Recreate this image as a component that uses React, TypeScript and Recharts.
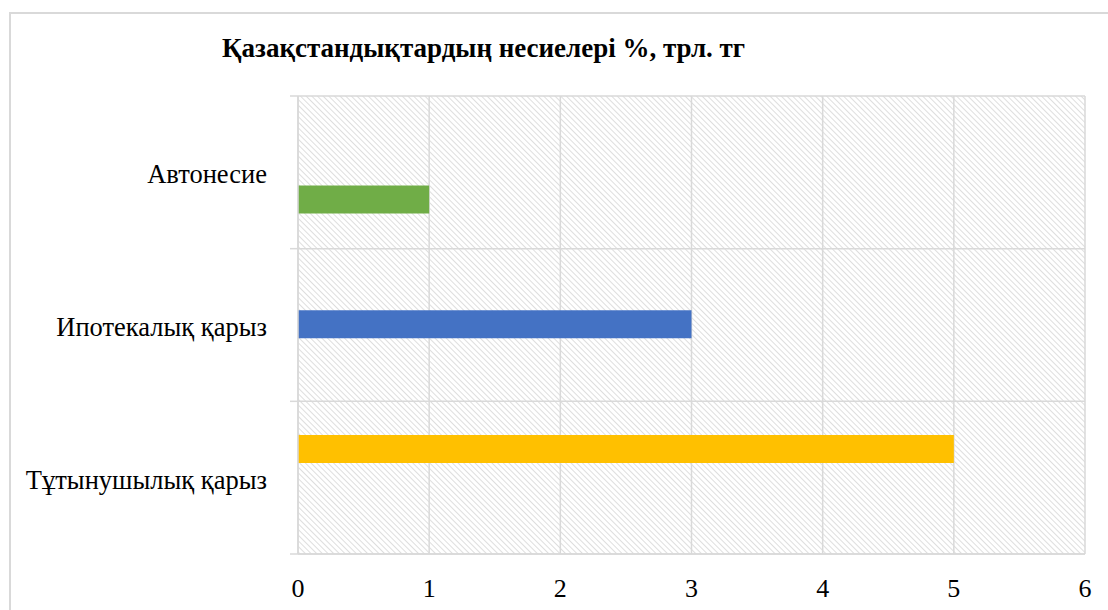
import React from 'react';
import { BarChart, Bar, XAxis, YAxis, CartesianGrid } from 'recharts';

const categories = ['Автонесие', 'Ипотекалық қарыз', 'Тұтынушылық қарыз'];
const consumerValues = [0, 0, 5];
const mortgageValues = [0, 3, 0];
const autoValues = [1, 0, 0];
const xTicks = [0, 1, 2, 3, 4, 5, 6];

const title = 'Қазақстандықтардың несиелері %, трл. тг';

const data = categories.map((name, i) => ({
  name,
  consumer: consumerValues[i],
  mortgage: mortgageValues[i],
  auto: autoValues[i],
}));

const GRID = '#d9d9d9';
const FONT = 'Liberation Serif';

// category label plus the short tick that sticks out left of the axis at each band border
const CategoryTick = (props: any) => {
  const { x, y, payload, index, visibleTicksCount } = props;
  const half = payload?.offset ?? 76;
  const isLast = index === visibleTicksCount - 1;
  return (
    <g>
      <line x1={x + 23} x2={x + 31} y1={y - half} y2={y - half} stroke={GRID} strokeWidth={1.5} />
      {isLast && (
        <line x1={x + 23} x2={x + 31} y1={y + half} y2={y + half} stroke={GRID} strokeWidth={1.5} />
      )}
      <text x={x} y={y + 2} textAnchor="end" dominantBaseline="central" fontSize={26.5} fill="#000" style={{ fontFamily: FONT }}>
        {payload.value}
      </text>
    </g>
  );
};

const ValueTick = (props: any) => {
  const { x, y, payload } = props;
  return (
    <text x={x} y={y + 10} textAnchor="middle" dominantBaseline="central" fontSize={26} fill="#000" style={{ fontFamily: FONT }}>
      {payload.value}
    </text>
  );
};

const App = () => {
  return (
    <div style={{ position: 'absolute', left: 0, top: 0, width: 1108, height: 610, background: '#fff', overflow: 'hidden' }}>
      <svg width={0} height={0} style={{ position: 'absolute' }}>
        <defs>
          <pattern id="hatch" patternUnits="userSpaceOnUse" width={4} height={4} patternTransform="rotate(-45)">
            <rect width={4} height={4} fill="#fff" />
            <line x1={0} y1={0} x2={0} y2={4} stroke="#d6d6d6" strokeWidth={1.6} />
          </pattern>
        </defs>
      </svg>

      {/* outer chart frame, only top and left edges are visible */}
      <div style={{ position: 'absolute', left: 9, top: 12, width: 1120, height: 620, border: '2px solid #d9d9d9', boxSizing: 'border-box' }} />

      <div
        style={{
          position: 'absolute',
          left: 222,
          top: 31,
          fontFamily: FONT,
          fontWeight: 'bold',
          fontSize: 27,
          lineHeight: '34px',
          whiteSpace: 'nowrap',
          color: '#000',
        }}
      >
        {title}
      </div>

      <div style={{ position: 'absolute', left: 0, top: 0 }}>
        <BarChart
          width={1108}
          height={610}
          data={data}
          layout="vertical"
          margin={{ top: 96, right: 23, bottom: 16, left: 0 }}
          barCategoryGap="22%"
          barGap={0}
          style={{ fontFamily: FONT }}
        >
          <CartesianGrid
            stroke={GRID}
            strokeWidth={1.5}
            fill="url(#hatch)"
            fillOpacity={1}
            horizontalCoordinatesGenerator={({ offset }: any) =>
              [0, 1, 2, 3].map((i) => offset.top + (i * offset.height) / 3)
            }
          />
          <XAxis
            type="number"
            domain={[0, 6]}
            ticks={xTicks}
            interval={0}
            axisLine={{ stroke: GRID, strokeWidth: 1.5 }}
            tickLine={false}
            tickSize={0}
            tickMargin={24}
            height={40}
            tick={<ValueTick />}
          />
          <YAxis
            type="category"
            dataKey="name"
            width={298}
            axisLine={{ stroke: GRID, strokeWidth: 1.5 }}
            tickLine={false}
            tickSize={0}
            tickMargin={31}
            interval={0}
            tick={<CategoryTick />}
          />
          <Bar dataKey="consumer" fill="#FFC000" isAnimationActive={false} />
          <Bar dataKey="mortgage" fill="#4472C4" isAnimationActive={false} />
          <Bar dataKey="auto" fill="#70AD47" isAnimationActive={false} />
        </BarChart>
      </div>
    </div>
  );
};

export default App;
